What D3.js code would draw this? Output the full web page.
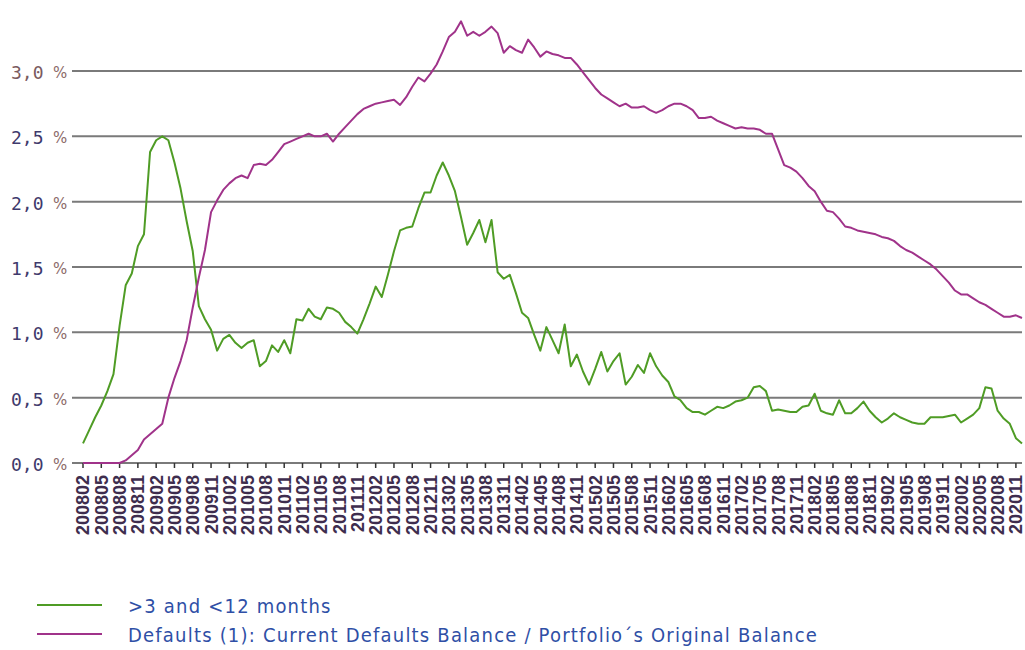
<!DOCTYPE html>
<html>
<head>
<meta charset="utf-8">
<script src="https://cdn.jsdelivr.net/npm/d3@7"></script>
<style>
  body { margin: 0; background: #fff; }
  svg { display: block; }
</style>
</head>
<body>
<svg id="chart" width="1025" height="650"></svg>
<script>
// Monthly series, 200802 .. 202012 (percent)
const arrears = [
  0.15, 0.25, 0.35, 0.44, 0.55, 0.68, 1.05, 1.36, 1.45, 1.66,
  1.75, 2.38, 2.47, 2.50, 2.47, 2.30, 2.10, 1.85, 1.62, 1.20,
  1.10, 1.02, 0.86, 0.95, 0.98, 0.92, 0.88, 0.92, 0.94, 0.74,
  0.78, 0.90, 0.85, 0.94, 0.84, 1.10, 1.09, 1.18, 1.12, 1.10,
  1.19, 1.18, 1.15, 1.08, 1.04, 0.99, 1.10, 1.22, 1.35, 1.27,
  1.44, 1.62, 1.78, 1.80, 1.81, 1.95, 2.07, 2.07, 2.20, 2.30,
  2.20, 2.08, 1.88, 1.67, 1.76, 1.86, 1.69, 1.86, 1.46, 1.41,
  1.44, 1.30, 1.15, 1.11, 0.98, 0.86, 1.04, 0.94, 0.84, 1.06,
  0.74, 0.83, 0.70, 0.60, 0.72, 0.85, 0.70, 0.78, 0.84, 0.60,
  0.66, 0.75, 0.69, 0.84, 0.74, 0.67, 0.62, 0.51, 0.48, 0.42,
  0.39, 0.39, 0.37, 0.40, 0.43, 0.42, 0.44, 0.47, 0.48, 0.50,
  0.58, 0.59, 0.55, 0.40, 0.41, 0.40, 0.39, 0.39, 0.43, 0.44,
  0.53, 0.40, 0.38, 0.37, 0.48, 0.38, 0.38, 0.42, 0.47, 0.40,
  0.35, 0.31, 0.34, 0.38, 0.35, 0.33, 0.31, 0.30, 0.30, 0.35,
  0.35, 0.35, 0.36, 0.37, 0.31, 0.34, 0.37, 0.42, 0.58, 0.57,
  0.40, 0.34, 0.30, 0.19, 0.15
];

const defaults = [
  0.00, 0.00, 0.00, 0.00, 0.00, 0.00, 0.00, 0.02, 0.06, 0.10,
  0.18, 0.22, 0.26, 0.30, 0.50, 0.65, 0.78, 0.94, 1.19, 1.42,
  1.63, 1.92, 2.01, 2.09, 2.14, 2.18, 2.20, 2.18, 2.28, 2.29,
  2.28, 2.32, 2.38, 2.44, 2.46, 2.48, 2.50, 2.52, 2.50, 2.50,
  2.52, 2.46, 2.52, 2.57, 2.62, 2.67, 2.71, 2.73, 2.75, 2.76,
  2.77, 2.78, 2.74, 2.80, 2.88, 2.95, 2.92, 2.98, 3.05, 3.15,
  3.26, 3.30, 3.38, 3.27, 3.30, 3.27, 3.30, 3.34, 3.29, 3.14,
  3.19, 3.16, 3.14, 3.24, 3.18, 3.11, 3.15, 3.13, 3.12, 3.10,
  3.10, 3.05, 2.99, 2.93, 2.87, 2.82, 2.79, 2.76, 2.73, 2.75,
  2.72, 2.72, 2.73, 2.70, 2.68, 2.70, 2.73, 2.75, 2.75, 2.73,
  2.70, 2.64, 2.64, 2.65, 2.62, 2.60, 2.58, 2.56, 2.57, 2.56,
  2.56, 2.55, 2.52, 2.52, 2.40, 2.28, 2.26, 2.23, 2.18, 2.12,
  2.08, 2.00, 1.93, 1.92, 1.87, 1.81, 1.80, 1.78, 1.77, 1.76,
  1.75, 1.73, 1.72, 1.70, 1.66, 1.63, 1.61, 1.58, 1.55, 1.52,
  1.48, 1.43, 1.38, 1.32, 1.29, 1.29, 1.26, 1.23, 1.21, 1.18,
  1.15, 1.12, 1.12, 1.13, 1.11
];

const xTickLabels = [
  "200802", "200805", "200808", "200811", "200902", "200905", "200908", "200911",
  "201002", "201005", "201008", "201011", "201102", "201105", "201108", "201111",
  "201202", "201205", "201208", "201211", "201302", "201305", "201308", "201311",
  "201402", "201405", "201408", "201411", "201502", "201505", "201508", "201511",
  "201602", "201605", "201608", "201611", "201702", "201705", "201708", "201711",
  "201802", "201805", "201808", "201811", "201902", "201905", "201908", "201911",
  "202002", "202005", "202008", "202011"
];

const yTickValues = [0, 0.5, 1.0, 1.5, 2.0, 2.5, 3.0];

const legendLabels = [
  ">3 and <12 months",
  "Defaults (1): Current Defaults Balance / Portfolio\u00b4s Original Balance"
];

const seriesColors = ["#4f9c25", "#a0338a"];

// month keys for the x scale
const fmt = d3.timeFormat("%Y%m");
const months = d3.timeMonth.range(new Date(2008, 1, 1), new Date(2021, 0, 1)).map(fmt);

const svg = d3.select("#chart");

const x = d3.scalePoint().domain(months).range([83, 1022]);
const y = d3.scaleLinear().domain([0, 3]).range([463, 71]);

// horizontal gridlines
svg.append("g")
    .selectAll("line")
    .data(yTickValues)
    .join("line")
    .attr("x1", 72)
    .attr("x2", 1022)
    .attr("y1", d => y(d))
    .attr("y2", d => y(d))
    .style("stroke", "#7a7a7a")
    .style("stroke-width", 2);

// y labels
const fmtY = d => d.toFixed(1).replace(".", ",");
const yLab = svg.append("g");
yLab.selectAll("text.num")
    .data(yTickValues)
    .join("text")
    .attr("class", "num")
    .attr("x", 11)
    .attr("y", d => y(d) + 8)
    .style("font-family", "'DejaVu Sans Mono', monospace")
    .style("font-size", "18px")
    .style("fill", (d, i) => i === 6 ? "#7a5a5e" : "#3f3a6c")
    .text(fmtY);
yLab.selectAll("text.pct")
    .data(yTickValues)
    .join("text")
    .attr("class", "pct")
    .attr("x", 53)
    .attr("y", d => y(d) + 7)
    .style("font-family", "'DejaVu Sans', sans-serif")
    .style("font-size", "15px")
    .style("fill", "#8c6a68")
    .text("%");

// x ticks
svg.append("g")
    .selectAll("line")
    .data(xTickLabels)
    .join("line")
    .attr("x1", d => x(d))
    .attr("x2", d => x(d))
    .attr("y1", 463)
    .attr("y2", 468)
    .style("stroke", "#333")
    .style("stroke-width", 1.5);

// x labels
svg.append("g")
    .selectAll("text")
    .data(xTickLabels)
    .join("text")
    .attr("transform", d => `translate(${x(d)},475) rotate(-90)`)
    .attr("text-anchor", "end")
    .attr("dy", "0.36em")
    .style("font-family", "'Liberation Sans', Arial, sans-serif")
    .style("font-size", "18px")
    .style("font-weight", "bold")
    .style("fill", "#3e2d4e")
    .text(d => d);

// lines
const line = d3.line()
    .x((d, i) => x(months[i]))
    .y(d => y(d));

[arrears, defaults].forEach((series, k) => {
    svg.append("path")
        .datum(series)
        .attr("d", line)
        .style("fill", "none")
        .style("stroke", seriesColors[k])
        .style("stroke-width", 2)
        .style("stroke-linejoin", "round");
});

// legend
const legend = svg.append("g");
legendLabels.forEach((label, k) => {
    const ly = 605 + k * 29;
    legend.append("line")
        .attr("x1", 37)
        .attr("x2", 102)
        .attr("y1", ly)
        .attr("y2", ly)
        .style("stroke", seriesColors[k])
        .style("stroke-width", 2);
    legend.append("text")
        .attr("x", 128)
        .attr("y", ly + 8)
        .style("font-family", "'DejaVu Sans Condensed', 'DejaVu Sans', sans-serif")
        .style("font-size", "20px")
        .style("letter-spacing", "1.2px")
        .style("fill", "#2f4fa6")
        .text(label);
});
</script>
</body>
</html>
